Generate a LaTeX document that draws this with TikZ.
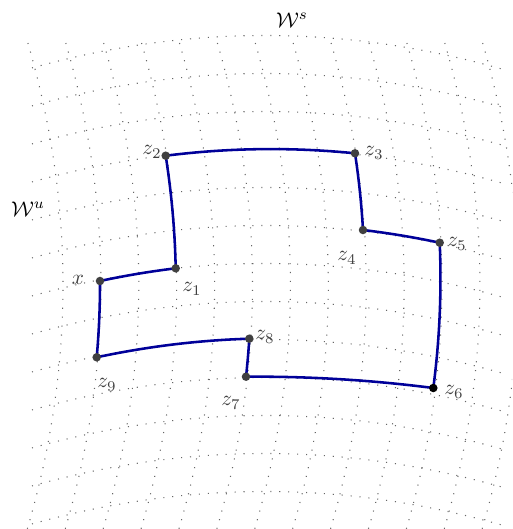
\documentclass[tikz,border=0pt]{standalone}
\usetikzlibrary{calc}
\begin{document}
\begin{tikzpicture}[x=0.47pt,y=-0.47pt,
  leaf/.style={black!60, line width=0.5pt, dash pattern=on 0.5pt off 3.7pt},
  route/.style={draw=blue!60!black, line width=1.2pt},
  pt/.style={circle, fill=black!75, inner sep=0pt, minimum size=4pt},
  lab/.style={text=black!75, inner sep=0pt}]
\useasboundingbox (0,0) rectangle (512,529);
% foliation grid
\begin{scope}
\clip (0,0) rectangle (512,529);
\foreach \k in {0,...,12}{
  \pgfmathsetmacro\yy{35.5+38*\k}
  \draw[leaf] plot[domain=32:508, samples=60, smooth] (\x,{\yy+33*((\x-265)/235)^2});
  \pgfmathsetmacro\xx{27+37.9*\k}
  \draw[leaf] plot[domain=43:529, samples=60, smooth] ({\xx+36*(1-((\x-285)/245)^2)},\x);
}
\end{scope}
% points
\coordinate (px) at (100,281);
\coordinate (p1) at (175.7,268.3);
\coordinate (p2) at (165.7,155.7);
\coordinate (p3) at (355,153.3);
\coordinate (p4) at (363,230);
\coordinate (p5) at (439.7,242.7);
\coordinate (p6) at (433.3,388);
\coordinate (p7) at (246,376.7);
\coordinate (p8) at (249.3,338.7);
\coordinate (p9) at (96.7,357.3);
% control points (quadratic)
\coordinate (c1) at (137.9,272.9);
\coordinate (c2) at (174.5,212);
\coordinate (c3) at (260.4,143.8);
\coordinate (c4) at (360.8,191.7);
\coordinate (c5) at (401.4,234.6);
\coordinate (c6) at (442.8,315.4);
\coordinate (c7) at (339.7,376);
\coordinate (c8) at (248.1,357.7);
\coordinate (c9) at (173,341);
\coordinate (c10) at (100.1,319.2);
\draw[route]
  (px) .. controls ($(px)!2/3!(c1)$) and ($(p1)!2/3!(c1)$) .. (p1)
       .. controls ($(p1)!2/3!(c2)$) and ($(p2)!2/3!(c2)$) .. (p2)
       .. controls ($(p2)!2/3!(c3)$) and ($(p3)!2/3!(c3)$) .. (p3)
       .. controls ($(p3)!2/3!(c4)$) and ($(p4)!2/3!(c4)$) .. (p4)
       .. controls ($(p4)!2/3!(c5)$) and ($(p5)!2/3!(c5)$) .. (p5)
       .. controls ($(p5)!2/3!(c6)$) and ($(p6)!2/3!(c6)$) .. (p6)
       .. controls ($(p6)!2/3!(c7)$) and ($(p7)!2/3!(c7)$) .. (p7)
       .. controls ($(p7)!2/3!(c8)$) and ($(p8)!2/3!(c8)$) .. (p8)
       .. controls ($(p8)!2/3!(c9)$) and ($(p9)!2/3!(c9)$) .. (p9)
       .. controls ($(p9)!2/3!(c10)$) and ($(px)!2/3!(c10)$) .. (px);
% dots
\foreach \p in {px,p1,p2,p3,p4,p5,p7,p8,p9}{\node[pt] (n\p) at (\p) {};}
\node[pt, fill=black] (np6) at (p6) {};
% labels
\node[lab] (lx) at (78,280) {$x$};
\node[lab] (l1) at (192,289) {$z_1$};
\node[lab] (l2) at (152,152) {$z_2$};
\node[lab] (l3) at (374,153) {$z_3$};
\node[lab] (l4) at (347,258) {$z_4$};
\node[lab] (l5) at (457,244) {$z_5$};
\node[lab] (l6) at (454,392) {$z_6$};
\node[lab] (l7) at (231,403) {$z_7$};
\node[lab] (l8) at (265,337) {$z_8$};
\node[lab] (l9) at (107,385) {$z_9$};
\node (ws) at (292,20) {$\mathcal{W}^s$};
\node (wu) at (28,209) {$\mathcal{W}^u$};
\end{tikzpicture}
\end{document}
